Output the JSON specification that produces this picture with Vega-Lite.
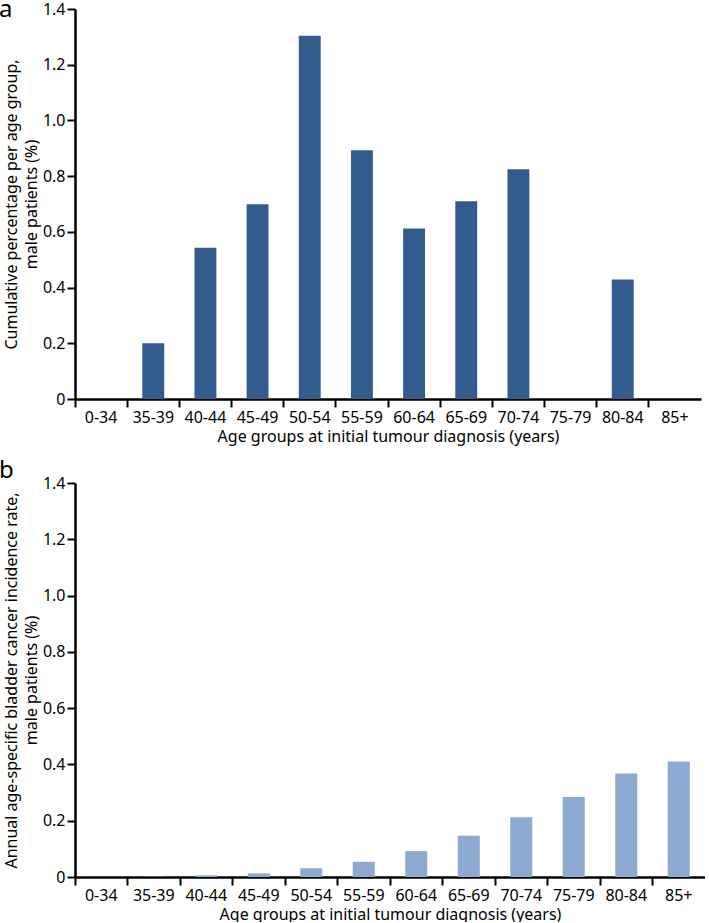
{
  "$schema": "https://vega.github.io/schema/vega-lite/v6.json",
  "autosize": {"type": "pad"},
  "padding": {"top": -2, "left": -1, "right": 0, "bottom": 0},
  "bounds": "flush",
  "spacing": 84,
  "config": {
    "font": "Noto Sans",
    "view": {"stroke": null},
    "axis": {
      "domainColor": "black",
      "domainWidth": 2.5,
      "tickColor": "black",
      "tickWidth": 2,
      "tickSize": 8,
      "labelFontSize": 16,
      "labelColor": "black",
      "titleFontSize": 16,
      "titleFontWeight": "normal",
      "titleColor": "black",
      "grid": false
    },
    "title": {"fontSize": 24, "fontWeight": "normal", "color": "black", "anchor": "start", "frame": "group"}
  },
  "datasets": {
    "cumulative": [
      {"age": "0-34", "pct": 0},
      {"age": "35-39", "pct": 0.2},
      {"age": "40-44", "pct": 0.543},
      {"age": "45-49", "pct": 0.699},
      {"age": "50-54", "pct": 1.304},
      {"age": "55-59", "pct": 0.893},
      {"age": "60-64", "pct": 0.612},
      {"age": "65-69", "pct": 0.71},
      {"age": "70-74", "pct": 0.825},
      {"age": "75-79", "pct": 0},
      {"age": "80-84", "pct": 0.429},
      {"age": "85+", "pct": 0}
    ],
    "incidence": [
      {"age": "0-34", "rate": 0},
      {"age": "35-39", "rate": 0.001},
      {"age": "40-44", "rate": 0.006},
      {"age": "45-49", "rate": 0.013},
      {"age": "50-54", "rate": 0.031},
      {"age": "55-59", "rate": 0.054},
      {"age": "60-64", "rate": 0.092},
      {"age": "65-69", "rate": 0.147},
      {"age": "70-74", "rate": 0.212},
      {"age": "75-79", "rate": 0.284},
      {"age": "80-84", "rate": 0.368},
      {"age": "85+", "rate": 0.41}
    ]
  },
  "vconcat": [
    {
      "title": {"text": "a", "dx": -76, "dy": 7, "offset": -33, "baseline": "alphabetic"},
      "width": 626,
      "height": 390,
      "data": {"name": "cumulative"},
      "mark": {"type": "bar", "width": {"band": 0.42}, "color": "#335c8e"},
      "encoding": {
        "x": {
          "field": "age",
          "type": "nominal",
          "sort": null,
          "scale": {"paddingInner": 0, "paddingOuter": 0},
          "axis": {"bandPosition": 0, "labelAngle": 0, "labelPadding": 2, "title": "Age groups at initial tumour diagnosis (years)", "titlePadding": 3}
        },
        "y": {
          "field": "pct",
          "type": "quantitative",
          "scale": {"domain": [0, 1.4], "nice": false},
          "axis": {
            "values": [0, 0.2, 0.4, 0.6, 0.8, 1.0, 1.2, 1.4],
            "labelExpr": "datum.value == 0 ? '0' : format(datum.value, '.1f')",
            "labelPadding": 2,
            "title": ["Cumulative percentage per age group,", "male patients (%)"],
            "titleLineHeight": 20,
            "titlePadding": 3
          }
        }
      }
    },
    {
      "title": {"text": "b", "dx": -76, "dy": -3, "offset": -30, "baseline": "alphabetic"},
      "width": 630,
      "height": 394,
      "data": {"name": "incidence"},
      "mark": {"type": "bar", "width": {"band": 0.42}, "color": "#8daad2"},
      "encoding": {
        "x": {
          "field": "age",
          "type": "nominal",
          "sort": null,
          "scale": {"paddingInner": 0, "paddingOuter": 0},
          "axis": {"bandPosition": 0, "labelAngle": 0, "labelPadding": 2, "title": "Age groups at initial tumour diagnosis (years)", "titlePadding": 3}
        },
        "y": {
          "field": "rate",
          "type": "quantitative",
          "scale": {"domain": [0, 1.4], "nice": false},
          "axis": {
            "values": [0, 0.2, 0.4, 0.6, 0.8, 1.0, 1.2, 1.4],
            "labelExpr": "datum.value == 0 ? '0' : format(datum.value, '.1f')",
            "labelPadding": 2,
            "title": ["Annual age-specific bladder cancer incidence rate,", "male patients (%)"],
            "titleLineHeight": 20,
            "titlePadding": 3
          }
        }
      }
    }
  ]
}
